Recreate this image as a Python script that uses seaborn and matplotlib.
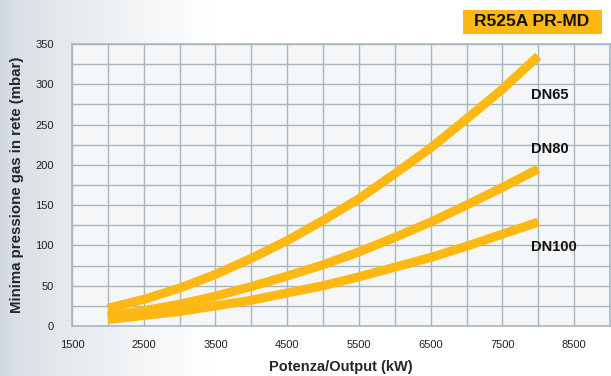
#! /usr/bin/env python3

# imports
import matplotlib
matplotlib.use("Agg")
import matplotlib.pyplot as plt
from matplotlib.patches import Rectangle
from matplotlib.ticker import MultipleLocator
import seaborn as sns
import numpy as np
import pandas as pd

# data
output_kw = [2000, 2500, 3000, 3500, 4000, 4500, 5000, 5500, 6000, 6500, 7000, 7500, 8000]
dn65 = [22, 33, 47, 64, 84, 106, 131, 158, 189, 221, 257, 294, 335]
dn80 = [12, 19, 27, 37, 49, 62, 76, 92, 110, 129, 150, 172, 195]
dn100 = [8, 13, 18, 25, 32, 41, 50, 61, 73, 85, 99, 114, 129]
series_names = ["DN65", "DN80", "DN100"]
label_pos = [(7900, 287), (7900, 220), (7900, 98)]
title = "R525A PR-MD"

ORANGE = "#FDB813"
GRID = "#AAB6BE"

sns.set_style("white")
plt.rcParams['font.family'] = ['Liberation Sans', 'DejaVu Sans']

fig = plt.figure(figsize=(6.11, 3.76), dpi=100)

# background gradient (grey on the left fading to white)
bg = fig.add_axes([0, 0, 1, 1], zorder=-10)
w = np.linspace(0, 1, 611)
fade = np.clip(w / 0.35, 0, 1) ** 0.7
row = np.array([0.82, 0.85, 0.88])[None, :] * (1 - fade[:, None]) + fade[:, None]
img = np.repeat(row[None, :, :], 376, axis=0)
bg.imshow(img, aspect="auto", extent=[0, 1, 0, 1])
bg.axis("off")

ax = fig.add_axes([72 / 611, 1 - 326 / 376, 538 / 611, 282 / 376])
ax.set_facecolor("#F4F6F8")

df = pd.DataFrame({"output": output_kw * 3,
                   "pressure": dn65 + dn80 + dn100,
                   "series": [n for n in series_names for _ in output_kw]})
sns.lineplot(data=df, x="output", y="pressure", hue="series",
             palette=[ORANGE] * 3, linewidth=6.5, legend=False, ax=ax,
             zorder=3)
for line in ax.lines:
    line.set_solid_capstyle("butt")

for name, (x, y) in zip(series_names, label_pos):
    ax.text(x, y, name, fontsize=10.5, fontweight="bold", ha="left", va="center",
            color="#111111", zorder=4)

ax.set_xlim(1500, 9000)
ax.set_ylim(0, 350)
ax.xaxis.set_minor_locator(MultipleLocator(500))
ax.yaxis.set_major_locator(MultipleLocator(50))
ax.yaxis.set_minor_locator(MultipleLocator(25))
ax.set_xticks(range(1500, 9000, 1000))
ax.grid(True, which="both", color=GRID, linewidth=1.0, zorder=0)
ax.set_axisbelow(True)
for s in ax.spines.values():
    s.set_color(GRID)
    s.set_linewidth(1.2)

ax.tick_params(axis="both", which="major", length=4, color=GRID, labelsize=8,
               labelcolor="#222222", pad=6)
ax.tick_params(axis="y", which="major", pad=9)
ax.tick_params(axis="both", which="minor", length=0)

ax.set_xlabel("Potenza/Output (kW)", fontsize=10.5, fontweight="bold")
ax.set_ylabel("Minima pressione gas in rete (mbar)", fontsize=10.8, fontweight="bold")
ax.xaxis.set_label_coords(0.5, -0.12)
ax.yaxis.set_label_coords(-0.089, 0.5)

# title box top right
fig.patches.append(Rectangle((463 / 611, 1 - 34 / 376), 139 / 611, 24 / 376,
                             transform=fig.transFigure, facecolor=ORANGE,
                             edgecolor="none", zorder=1))
fig.text(532 / 611, 1 - 22 / 376, title, fontsize=12.5, fontweight="bold",
         ha="center", va="center", color="#111111", zorder=2)

fig.savefig("out.png", dpi=100)
